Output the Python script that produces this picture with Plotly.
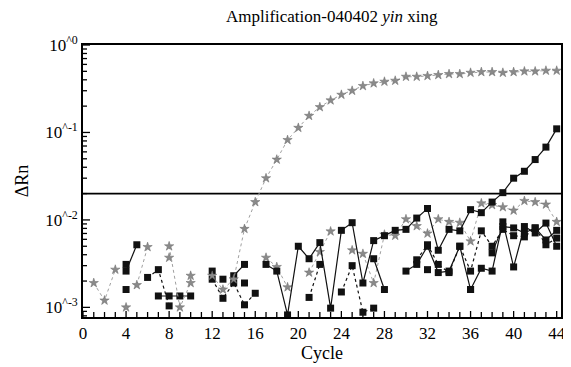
import math
import plotly.graph_objects as go

cycles = list(range(1, 45))
N = None

# gray star series (positive sample, amplification curve)
amp_stars = [0.0019, 0.0012, 0.0027, N, 0.0018, 0.0049, N, 0.0050, 0.0010, 0.0019,
             N, 0.0023, 0.0016, 0.0021, 0.0079, 0.016, 0.030, 0.049, 0.082, 0.113,
             0.155, 0.195, 0.233, 0.27, 0.30, 0.34, 0.365, 0.381, 0.391, 0.434,
             0.434, 0.443, 0.454, 0.466, 0.466, 0.482, 0.491, 0.491, 0.482, 0.491,
             0.50, 0.50, 0.509, 0.509]

# gray star series (noise)
noise_stars = [N, N, N, 0.0010, N, N, N, 0.0037, N, 0.0023,
               N, N, N, N, N, N, 0.0037, 0.0029, 0.0017, N,
               0.0025, 0.0043, 0.0074, N, 0.0045, 0.0041, 0.0019, 0.0068, 0.0066, 0.0102,
               0.0085, 0.0070, 0.0102, 0.0095, 0.0093, 0.0057, 0.0155, 0.0148, 0.014, 0.0128,
               0.0165, 0.016, 0.015, 0.0095]

# black square series A (late rise)
black_a = [N, N, N, N, N, N, N, N, N, N,
           N, N, N, N, N, N, 0.0031, 0.0026, 0.00082, 0.0050,
           0.0036, 0.0055, 0.00098, 0.0076, 0.0093, 0.0019, 0.0058, 0.0066, 0.0076, 0.0078,
           0.0105, 0.0135, 0.0045, 0.0078, 0.0075, 0.0131, 0.0121, 0.016, 0.0205, 0.030,
           0.036, 0.049, 0.068, 0.11]

# black square series B
black_b = [N, N, N, 0.0031, N, N, 0.00135, 0.00135, 0.00135, 0.00135,
           N, 0.0026, N, 0.0023, 0.0031, N, N, N, N, N,
           N, N, N, N, N, N, N, N, N, 0.0026,
           0.0031, 0.0050, 0.0025, 0.0026, 0.0050, 0.0016, 0.0028, 0.0026, 0.0095, 0.0029,
           0.0084, 0.0071, 0.0092, 0.0050]

# black square series C (dotted)
black_c = [N, N, N, 0.0016, N, 0.0022, 0.0027, 0.00104, N, N,
           N, 0.0021, 0.00127, 0.0019, 0.00107, 0.00145, N, N, N, N,
           0.0013, 0.0031, N, 0.0015, 0.0030, 0.00088, 0.00098, N, N, N,
           0.0035, 0.0052, 0.0031, 0.0025, 0.0050, 0.0026, 0.0075, 0.0050, 0.0078, 0.0066,
           0.0064, 0.0081, 0.0052, 0.0062]

# black square series D (scattered)
black_d = [N, N, N, 0.0026, 0.0052, N, N, N, N, N,
           N, N, 0.0021, N, 0.0019, N, N, N, N, N,
           N, N, N, N, N, N, 0.0036, 0.0016, N, N,
           N, 0.0027, N, N, N, 0.0016, N, 0.0042, 0.0084, 0.0081,
           0.0071, 0.0081, 0.0059, 0.0076]

threshold = 0.02

X_RANGE = [0, 44.4]
Y_RANGE_LOG = [-3.11, 0]

y_tickvals = [1e-3, 1e-2, 1e-1, 1]
y_ticktext = ["10<sup>^-3</sup>", "10<sup>^-2</sup>", "10<sup>^-1</sup>", "10<sup>^0</sup>"]
y_minor = [m * 10.0 ** k for k in (-4, -3, -2, -1) for m in range(2, 10)]
x_tickvals = list(range(0, 45, 4))
x_minor = list(range(0, 45))

FONT = "Liberation Serif, Times New Roman, serif"

W, H = 563, 359
ML, MR, MT, MB = 75, 10, 37, 50
PW, PH = W - ML - MR, H - MT - MB
X_PER_PX = (X_RANGE[1] - X_RANGE[0]) / PW
LOG_PER_PX = (Y_RANGE_LOG[1] - Y_RANGE_LOG[0]) / PH

fig = go.Figure()

# inward tick marks as line segments built from the tick values and axis ranges
tick_x, tick_y = [], []
y_bottom = 10 ** Y_RANGE_LOG[0]
for v in x_minor:
    if X_RANGE[0] <= v <= X_RANGE[1]:
        ln = 6 if v in x_tickvals else 5
        tick_x += [v, v, None]
        tick_y += [y_bottom, 10 ** (Y_RANGE_LOG[0] + ln * LOG_PER_PX), None]
for v, ln in [(t, 7) for t in y_tickvals] + [(t, 4) for t in y_minor]:
    if Y_RANGE_LOG[0] <= math.log10(v) <= Y_RANGE_LOG[1]:
        tick_x += [X_RANGE[0], X_RANGE[0] + ln * X_PER_PX, None]
        tick_y += [v, v, None]
fig.add_trace(go.Scatter(x=tick_x, y=tick_y, mode="lines", connectgaps=False,
                         line=dict(color="black", width=1.3), hoverinfo="skip",
                         showlegend=False, cliponaxis=False))

fig.add_trace(go.Scatter(x=X_RANGE, y=[threshold, threshold], mode="lines",
                         line=dict(color="black", width=1.6), showlegend=False))

def add_squares(y, dash):
    fig.add_trace(go.Scatter(
        x=cycles, y=y, mode="lines+markers", connectgaps=False,
        line=dict(color="#111111", width=1.2, dash=dash),
        marker=dict(symbol="square", size=7, color="#111111"),
        showlegend=False))

def add_stars(y, size):
    fig.add_trace(go.Scatter(
        x=cycles, y=y, mode="lines+markers", connectgaps=False,
        line=dict(color="#a0a0a0", width=1, dash="dot"),
        marker=dict(symbol="star", size=size, color="#8a8a8a",
                    line=dict(color="#6a6a6a", width=0.5)),
        showlegend=False))

add_stars(noise_stars, 7)
add_squares(black_c, "dot")
add_squares(black_d, "solid")
add_squares(black_b, "solid")
add_squares(black_a, "solid")
add_stars(amp_stars, 7)

# the page body has an 8 px margin, so the figure is sized to fit the 571x367 window
fig.update_layout(
    template="none",
    width=W, height=H,
    margin=dict(l=ML, r=MR, t=MT, b=MB, autoexpand=False),
    paper_bgcolor="white", plot_bgcolor="white",
    font=dict(family=FONT, size=17, color="black"),
    title=dict(text="Amplification-040402 <i>yin</i> xing", x=0.575, xanchor="center",
               y=0.978, yanchor="middle",
               font=dict(family=FONT, size=17, color="black")),
)

fig.update_xaxes(
    range=X_RANGE, tickvals=x_tickvals, ticks="",
    showline=True, linecolor="black", linewidth=1.6, mirror=True,
    showgrid=False, zeroline=False,
    title=dict(text="Cycle", font=dict(family=FONT, size=18), standoff=4),
    tickfont=dict(family=FONT, size=17),
)

fig.update_yaxes(
    type="log", range=Y_RANGE_LOG, tickvals=y_tickvals, ticktext=y_ticktext, ticks="",
    showline=True, linecolor="black", linewidth=1.6, mirror=True,
    showgrid=False, zeroline=False, automargin=True,
    title=dict(text="ΔRn", font=dict(family=FONT, size=18), standoff=12),
    tickfont=dict(family=FONT, size=17),
)

fig.write_html("out.html")
